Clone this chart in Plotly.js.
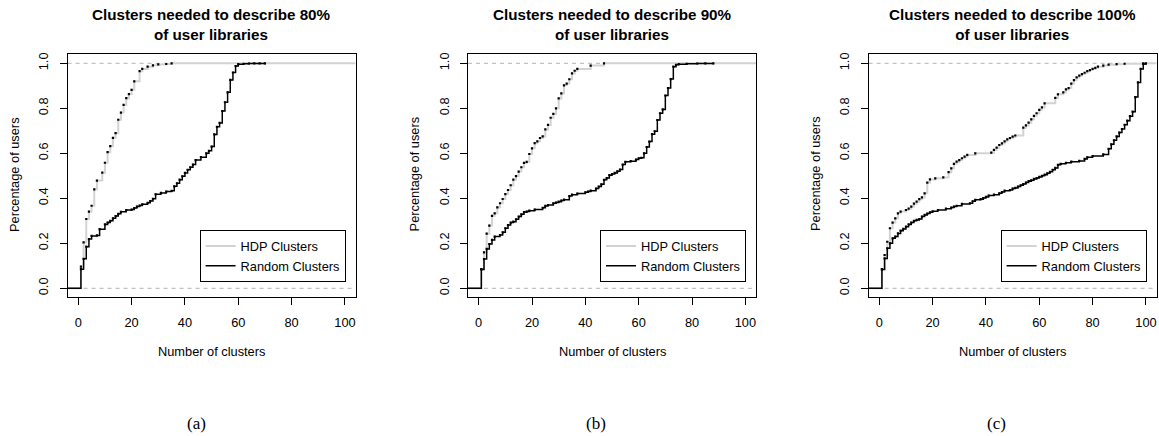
<!DOCTYPE html>
<html><head><meta charset="utf-8">
<script src="https://cdn.plot.ly/plotly-3.0.1.min.js"></script>
<style>html,body{margin:0;padding:0;background:#fff}#chart{width:1159px;height:436px}</style>
</head><body><div id="chart"></div>
<script>
// ---------------- data ----------------
const panelTitles = ['Clusters needed to describe 80%<br>of user libraries',
                     'Clusters needed to describe 90%<br>of user libraries',
                     'Clusters needed to describe 100%<br>of user libraries'];
const captions = ['(a)', '(b)', '(c)'];
const seriesNames = ['HDP Clusters', 'Random Clusters'];
const xTitle = 'Number of clusters';
const yTitle = 'Percentage of users';
const xTicks = [0, 20, 40, 60, 80, 100];
const yTicks = [0, 0.2, 0.4, 0.6, 0.8, 1.0];
const xLimits = [0, 100];
const yLimits = [0, 1];

// panel (a): 80%
const hdpA_x = [1,2,3,4,5,6,7,9,10,11,12,13,14,15,16,17,18,19,20,21,23,24,26,28,30,33,35];
const hdpA_y = [.096,.204,.308,.341,.367,.44,.479,.514,.558,.605,.632,.669,.69,.749,.781,.815,.845,.863,.882,.92,.965,.975,.985,.991,.995,.997,1.0];
const rndA_x = [1,2,3,4,5,7,8,10,11,12,13,14,15,16,18,20,21,22,23,24,26,27,28,29,31,33,35,36,37,38,39,40,41,42,43,44,46,48,49,50,51,52,53,54,55,56,57,58,59,60,62,64,66,68,70];
const rndA_y = [.085,.131,.185,.219,.233,.235,.263,.284,.292,.300,.311,.321,.331,.340,.348,.350,.357,.363,.368,.373,.380,.388,.398,.418,.424,.430,.433,.453,.467,.483,.498,.513,.527,.538,.550,.570,.583,.600,.611,.630,.684,.718,.735,.788,.827,.871,.926,.959,.988,.996,.998,.999,.9993,.9996,1.0];

// panel (b): 90%
const hdpB_x = [1,2,3,4,5,6,7,8,9,10,11,12,13,14,15,16,17,18,19,20,21,22,23,24,25,26,27,28,29,30,31,32,33,34,35,36,37,42,47];
const hdpB_y = [.085,.16,.243,.279,.322,.333,.36,.378,.397,.419,.437,.458,.483,.499,.519,.538,.557,.562,.597,.622,.645,.653,.668,.675,.706,.726,.758,.775,.80,.844,.866,.902,.91,.929,.955,.967,.975,.99,1.0];
const rndB_x = [1,2,3,4,5,6,8,9,10,11,12,13,14,15,16,17,18,19,21,24,25,26,28,29,30,31,32,34,35,37,40,41,42,44,45,46,47,48,49,50,51,52,53,54,55,57,59,60,61,62,63,64,65,66,67,68,69,70,71,72,73,74,75,78,82,85,88];
const rndB_y = [.084,.13,.175,.197,.215,.23,.237,.249,.267,.281,.292,.296,.307,.319,.329,.339,.341,.345,.35,.358,.366,.37,.378,.381,.385,.39,.394,.41,.416,.421,.427,.43,.434,.443,.452,.462,.482,.49,.503,.508,.513,.52,.528,.55,.562,.565,.572,.578,.58,.60,.628,.652,.685,.698,.748,.778,.795,.857,.89,.93,.985,.993,.996,.998,.999,.9995,1.0];

// panel (c): 100%
const hdpC_x = [1,2,3,4,5,6,7,8,10,11,12,13,14,15,16,17,18,19,21,24,26,27,28,29,30,31,32,33,36,42,43,44,45,46,47,48,49,50,51,54,55,56,57,58,59,60,61,62,66,67,69,70,71,72,73,74,75,76,77,78,79,80,81,82,84,86,89,92,99];
const hdpC_y = [.085,.148,.207,.267,.292,.311,.333,.341,.348,.354,.363,.376,.385,.396,.404,.422,.47,.484,.489,.493,.516,.533,.553,.563,.57,.578,.585,.593,.60,.603,.615,.625,.637,.644,.653,.662,.668,.674,.679,.714,.724,.736,.751,.766,.778,.793,.804,.822,.846,.862,.871,.884,.89,.91,.925,.937,.945,.952,.958,.965,.97,.975,.98,.985,.99,.994,.996,.998,1.0];
const rndC_x = [1,2,3,4,5,6,7,8,9,10,11,12,13,14,15,16,17,18,19,20,22,25,27,28,29,31,34,35,36,38,39,40,41,43,45,46,47,49,50,51,52,53,54,55,56,57,58,59,60,61,62,63,64,65,66,67,68,70,72,75,77,78,80,84,86,87,88,89,90,91,92,93,94,95,96,97,98,99,100];
const rndC_y = [.084,.133,.178,.2,.222,.23,.244,.256,.264,.274,.284,.292,.30,.304,.308,.319,.326,.332,.338,.342,.348,.354,.359,.363,.367,.375,.378,.387,.393,.396,.401,.406,.412,.416,.422,.428,.434,.437,.443,.446,.452,.458,.463,.47,.476,.48,.486,.49,.495,.5,.505,.511,.518,.527,.535,.549,.553,.558,.563,.566,.575,.582,.588,.595,.62,.64,.658,.675,.692,.708,.727,.745,.765,.785,.85,.915,.975,.997,1.0];

const panels = [
  {hx: hdpA_x, hy: hdpA_y, rx: rndA_x, ry: rndA_y},
  {hx: hdpB_x, hy: hdpB_y, rx: rndB_x, ry: rndB_y},
  {hx: hdpC_x, hy: hdpC_y, rx: rndC_x, ry: rndC_y}
];

// ---------------- layout helpers ----------------
const W = 1159, H = 436;
const pad = 0.04 * (xLimits[1] - xLimits[0]);
const ypad = 0.04 * (yLimits[1] - yLimits[0]);
const xRange = [xLimits[0] - pad, xLimits[1] + pad];
const yRange = [yLimits[0] - ypad, yLimits[1] + ypad];
const boxLeft = [67.6, 468.0, 868.6];
const boxW = 288;
const boxTop = 54.3, boxBottom = 297.3;
const capX = [196, 596, 996];
const FONT = 'Liberation Sans, Arial, Helvetica, sans-serif';
const HDP_COL = '#d3d3d3', RND_COL = '#000000';

const traces = [];
const layout = {
  width: W, height: H,
  margin: {l: 0, r: 0, t: 0, b: 0, pad: 0},
  paper_bgcolor: '#ffffff', plot_bgcolor: '#ffffff',
  showlegend: true,
  font: {family: FONT, color: '#000', size: 12.8},
  annotations: [], shapes: []
};

panels.forEach((p, i) => {
  const sfx = i === 0 ? '' : String(i + 1);
  const xa = 'x' + sfx, ya = 'y' + sfx;
  const lg = i === 0 ? 'legend' : 'legend' + (i + 1);
  const d0 = boxLeft[i] / W, d1 = (boxLeft[i] + boxW) / W;
  const yd = [1 - boxBottom / H, 1 - boxTop / H];
  const axCommon = {
    showgrid: false, zeroline: false, showline: true, mirror: true,
    linecolor: '#000', linewidth: 1, ticks: 'outside', ticklen: 7,
    tickcolor: '#000', tickwidth: 1, tickfont: {family: FONT, size: 12.8, color: '#000'},
    fixedrange: true
  };
  layout['xaxis' + sfx] = Object.assign({}, axCommon, {
    domain: [d0, d1], range: xRange, anchor: ya, tickvals: xTicks,
    ticktext: xTicks.map(String), ticklabelstandoff: 6
  });
  layout['yaxis' + sfx] = Object.assign({}, axCommon, {
    domain: yd, range: yRange, anchor: xa, tickvals: yTicks,
    ticktext: yTicks.map(v => v.toFixed(1)), tickangle: -90, ticklabelstandoff: 6
  });
  // HDP step line (extends to the right edge of the plot)
  traces.push({
    type: 'scatter', mode: 'lines', name: seriesNames[0], legend: lg,
    x: [xRange[0]].concat(p.hx, [xRange[1]]),
    y: [0].concat(p.hy, [p.hy[p.hy.length - 1]]),
    xaxis: xa, yaxis: ya, line: {shape: 'hv', color: HDP_COL, width: 2},
    hoverinfo: 'skip'
  });
  // Random step line (ends at its last jump)
  traces.push({
    type: 'scatter', mode: 'lines', name: seriesNames[1], legend: lg,
    x: [xRange[0]].concat(p.rx),
    y: [0].concat(p.ry),
    xaxis: xa, yaxis: ya, line: {shape: 'hv', color: RND_COL, width: 1.5},
    hoverinfo: 'skip'
  });
  // jump points
  traces.push({
    type: 'scatter', mode: 'markers', showlegend: false, x: p.hx, y: p.hy,
    xaxis: xa, yaxis: ya, marker: {size: 2.2, color: '#000', symbol: 'square'}, hoverinfo: 'skip'
  });
  traces.push({
    type: 'scatter', mode: 'markers', showlegend: false, x: p.rx, y: p.ry,
    xaxis: xa, yaxis: ya, marker: {size: 2.2, color: '#000', symbol: 'square'}, hoverinfo: 'skip'
  });
  // legend box
  layout[lg] = {
    x: (boxLeft[i] + 278) / W, y: 1 - 282.3 / H, xanchor: 'right', yanchor: 'bottom',
    xref: 'paper', yref: 'paper',
    bgcolor: '#ffffff', bordercolor: '#000', borderwidth: 1,
    font: {family: FONT, size: 12.8, color: '#000'}, itemwidth: 30, tracegroupgap: 0
  };
  // dashed reference lines at 0 and 1
  yLimits.forEach(v => layout.shapes.push({
    type: 'line', xref: xa + ' domain', yref: ya, x0: 0, x1: 1, y0: v, y1: v,
    line: {color: '#b5b5b5', width: 1, dash: '4px,4px'}, layer: 'below'
  }));
  const cx = (boxLeft[i] + boxW / 2) / W;
  layout.annotations.push({
    text: '<b>' + panelTitles[i] + '</b>', xref: 'paper', yref: 'paper',
    x: cx, y: 1 - 24 / H, xanchor: 'center', yanchor: 'middle', showarrow: false,
    font: {family: FONT, size: 15.2, color: '#000'}
  });
  layout.annotations.push({
    text: xTitle, xref: 'paper', yref: 'paper', x: cx, y: 1 - 351.7 / H,
    xanchor: 'center', yanchor: 'middle', showarrow: false,
    font: {family: FONT, size: 12.8, color: '#000'}
  });
  layout.annotations.push({
    text: yTitle, xref: 'paper', yref: 'paper', x: (boxLeft[i] - 52.6) / W,
    y: 1 - 174 / H, xanchor: 'center', yanchor: 'middle', textangle: -90, showarrow: false,
    font: {family: FONT, size: 12.8, color: '#000'}
  });
  layout.annotations.push({
    text: captions[i], xref: 'paper', yref: 'paper', x: capX[i] / W, y: 1 - 423 / H,
    xanchor: 'center', yanchor: 'middle', showarrow: false,
    font: {family: 'Liberation Serif, DejaVu Serif, serif', size: 17, color: '#000'}
  });
});

Plotly.newPlot('chart', traces, layout, {displayModeBar: false, staticPlot: true});
</script></body></html>
